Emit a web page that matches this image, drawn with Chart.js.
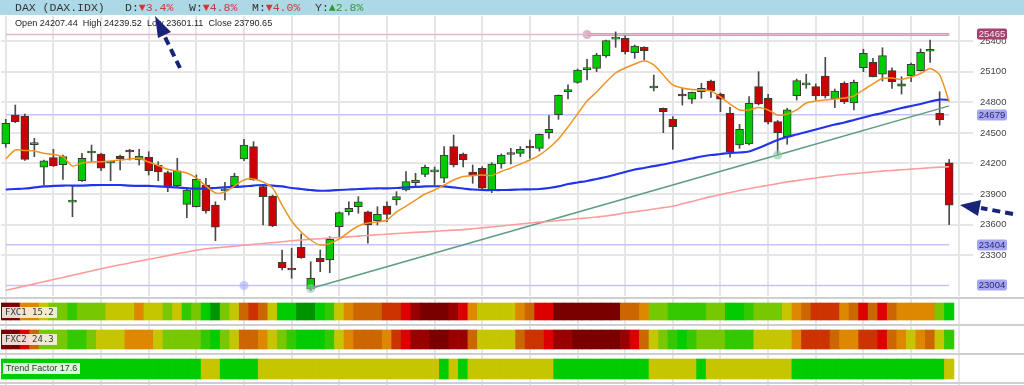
<!DOCTYPE html>
<html>
<head>
<meta charset="utf-8">
<script src="https://cdn.jsdelivr.net/npm/chart.js@4.4.1/dist/chart.umd.min.js"></script>
<style>
html, body { margin: 0; padding: 0; background: #fff; overflow: hidden; }
#wrap { position: relative; width: 1024px; height: 385px; }
canvas { position: absolute; left: 0; }
#price { top: 0; }
#strips { top: 297px; }
#head { position: absolute; left: 0; top: 0; width: 1024px; height: 15px; background: #add8e6;
  font: 11.5px "Liberation Mono", "DejaVu Sans Mono", monospace; color: #333; line-height: 15px; }
#head > span { position: absolute; top: 0; white-space: pre; }
.dn { color: #c63c3c; }
.up { color: #2f9a2f; }
#ohlc { position: absolute; left: 15px; top: 18px; font: 9.1px "Liberation Sans", Arial, sans-serif; color: #222; white-space: pre; }
.tag { position: absolute; height: 11px; line-height: 11px; padding: 0 3px; color: #333; white-space: pre; }
svg { position: absolute; left: 0; top: 0; }
</style>
</head>
<body>
<div id="wrap">
  <canvas id="price" width="1024" height="297"></canvas>
  <canvas id="strips" width="1024" height="88"></canvas>
  <div id="head">
    <span style="left:15px">DAX (DAX.IDX)</span>
    <span style="left:125px">D:<span class="dn">▼3.4%</span></span>
    <span style="left:189px">W:<span class="dn">▼4.8%</span></span>
    <span style="left:252px">M:<span class="dn">▼4.0%</span></span>
    <span style="left:315px">Y:<span class="up">▲2.8%</span></span>
  </div>
  <div id="ohlc">Open 24207.44  High 24239.52  Low 23601.11  Close 23790.65</div>
  <div class="tag" style="left:2px;top:307px;background:rgba(250,238,232,0.9);font:9px 'DejaVu Sans Mono',monospace">FXC1 15.2</div>
  <div class="tag" style="left:2px;top:334px;background:rgba(250,238,232,0.9);font:9px 'DejaVu Sans Mono',monospace">FXC2 24.3</div>
  <div class="tag" style="left:3px;top:363px;background:rgba(238,252,238,0.92);font:9px 'Liberation Sans',Arial,sans-serif">Trend Factor 17.6</div>
  <svg width="1024" height="385">
    <g stroke="#17247a" stroke-width="4" stroke-dasharray="8 5" fill="none">
      <line x1="180" y1="68" x2="164" y2="35"/>
      <line x1="1013" y1="214" x2="981" y2="208"/>
    </g>
    <g fill="#17247a">
      <polygon points="155,16 171,32 158,38"/>
      <polygon points="960,205 981,200 978,216"/>
    </g>
  </svg>
</div>
<script>
// 100 trading days, no dates shown on the chart
const days = Array.from({ length: 100 }, (_, i) => 'D' + (i + 1));

const open = [24391,24675,24666,24385,24163,24257,24188,23822,24031,24303,
  24293,24205,24273,24332,24234,24261,24182,24110,23983,23800,
  23776,23989,23793,23930,23983,24244,24365,23973,23881,23231,
  23173,23378,22970,23271,23254,23580,23727,23776,23727,23639,
  23783,23842,23940,24012,24094,24118,24055,24365,24293,24117,
  24153,23933,24195,24288,24300,24369,24349,24502,24678,24905,
  24996,25120,25133,25254,25420,25427,25286,25339,24940,24741,
  24633,24878,24830,24904,25009,24881,24692,24381,24391,24953,
  24839,24610,24463,24865,24970,24953,25058,24833,24986,24794,
  25139,25192,25075,25110,24957,25058,25110,25300,24692,24207.44];
const high = [24633,24773,24685,24447,24234,24339,24283,23982,24300,24381,
  24300,24218,24283,24339,24339,24316,24218,24126,24251,23950,
  24087,24055,23825,24016,24104,24437,24414,23980,23890,23352,
  23369,23509,23237,23352,23482,23725,23825,23875,23734,23776,
  23825,23924,24120,24104,24185,24166,24365,24479,24303,24185,
  24169,24208,24293,24349,24365,24430,24489,24669,24872,24970,
  25126,25222,25280,25411,25490,25450,25362,25345,25067,24745,
  24659,24937,24901,24986,25019,24891,24751,24584,24855,25100,
  24878,24622,24741,25028,25075,24980,25241,24930,25002,25019,
  25320,25231,25335,25139,25051,25185,25323,25411,24904,24239.52];
const low = [24359,24600,24230,24267,23989,24170,24045,23678,24025,24216,
  24129,24031,24136,24234,24185,24087,24031,23924,23967,23669,
  23773,23712,23443,23842,23980,24227,24035,23597,23580,23156,
  23075,23270,22955,23139,23129,23482,23695,23712,23418,23597,
  23629,23793,23930,23973,24071,23989,24012,24166,24166,24006,
  23950,23914,24153,24195,24267,24251,24322,24447,24633,24833,
  24986,25019,25100,25241,25339,25274,25231,25215,24911,24502,
  24339,24773,24790,24839,24849,24708,24261,24349,24381,24775,
  24587,24283,24388,24822,24937,24822,24842,24747,24787,24725,
  25100,25048,25009,24937,24881,25002,25107,25192,24577,23601.11];
const close = [24594,24610,24241,24392,24227,24178,24267,23828,24251,24316,
  24153,24212,24244,24313,24273,24129,24117,23973,24127,23940,
  24044,23734,23575,23950,24077,24381,24038,23875,23587,23178,
  23156,23276,23075,23237,23457,23718,23761,23825,23597,23702,
  23702,23875,24022,24038,24163,24124,24283,24185,24234,24084,
  23957,24195,24283,24294,24339,24352,24486,24535,24869,24912,
  25117,25128,25264,25404,25426,25296,25352,25306,24950,24708,
  24561,24862,24898,24937,24911,24830,24310,24535,24790,24783,
  24604,24502,24725,25012,24980,24862,24862,24911,24806,24996,
  25280,25051,25257,25002,24982,25172,25290,25310,24629,23790.65];

// moving averages
const maFast = [24244,24332,24328,24323,24300,24288,24264,24175,24205,24215,
  24218,24225,24234,24244,24249,24215,24180,24143,24126,24107,
  24058,23980,23911,23921,23980,24038,24048,24019,23960,23793,
  23636,23528,23450,23401,23416,23460,23528,23587,23617,23626,
  23646,23725,23783,23842,23901,23940,23989,24038,24073,24082,
  24087,24082,24122,24156,24195,24234,24283,24352,24440,24558,
  24685,24813,24901,24999,25087,25136,25175,25205,25166,25068,
  24970,24940,24925,24921,24911,24852,24783,24725,24725,24749,
  24725,24675,24685,24725,24793,24813,24823,24832,24842,24862,
  24921,24980,25033,25038,25024,25048,25082,25131,25068,24803];
const maMid = [23945,23950,23955,23965,23975,23980,23984,23984,23984,23987,
  23989,23989,23989,23984,23981,23980,23975,23970,23965,23958,
  23953,23955,23960,23965,23970,23975,23984,23989,23984,23975,
  23960,23950,23940,23933,23935,23940,23945,23950,23953,23957,
  23957,23960,23965,23970,23975,23977,23975,23965,23955,23945,
  23940,23940,23940,23942,23945,23947,23950,23960,23975,23999,
  24014,24028,24048,24068,24092,24117,24141,24156,24175,24190,
  24210,24229,24249,24269,24283,24293,24303,24308,24318,24352,
  24391,24430,24460,24484,24509,24533,24558,24582,24602,24627,
  24651,24675,24695,24720,24744,24764,24783,24808,24827,24823];
const maSlow = [22957,22977,22999,23020,23041,23062,23083,23104,23125,23146,
  23168,23188,23207,23224,23243,23261,23278,23297,23316,23333,
  23351,23364,23373,23381,23390,23398,23407,23416,23424,23433,
  23442,23450,23457,23463,23469,23475,23481,23488,23494,23501,
  23507,23513,23519,23525,23530,23535,23541,23547,23552,23560,
  23569,23578,23587,23597,23607,23616,23625,23632,23641,23649,
  23658,23666,23675,23685,23699,23715,23727,23739,23754,23767,
  23781,23805,23828,23852,23875,23895,23916,23936,23953,23970,
  23986,24003,24020,24032,24045,24058,24071,24083,24092,24101,
  24109,24117,24125,24132,24138,24145,24151,24158,24164,24168];

// trend line through two lows, out to the last day
const trendIdx = [32, 81, 99];
const trendVal = [22975, 24283, 24765];

// horizontal levels and the day each one is anchored on
const levels = [25465, 24679, 23404, 23004];
const levelAnchor = [61, null, null, 25];

const yTicks = [23300, 23600, 23900, 24200, 24500, 24800, 25100, 25400];

// indicator strips, -5 (deep red) .. 5 (deep green)
const fxc1 = [-5,-5,0,0,1,2,2,3,2,2, 2,1,1,1,0,1,1,2,1,3,
  2,4,5,2,1,-1,-2,-1,1,4, 4,5,5,4,3,1,0,-1,-1,-1,
  -2,-2,-3,-4,-5,-5,-5,-4,-3,0, 1,1,1,1,0,-1,-3,-3,-5,-5,
  -5,-5,-5,-5,-5,-1,-1,0,2,2, 3,3,3,3,2,2,4,4,3,2,
  2,2,1,0,-1,-2,-2,-2,0,-1, -3,-1,-3,-1,0,0,0,0,2,4];
const fxc2 = [-5,-5,-3,-1,2,2,2,3,3,2, 1,1,1,0,0,0,1,2,2,2,
  2,3,4,2,1,-1,-1,0,1,2, 3,4,4,4,3,1,0,-1,-1,-1,
  0,-2,-3,-4,-4,-5,-5,-4,-4,-1, 1,1,1,1,-1,-2,-2,-3,-4,-4,
  -5,-5,-5,-5,-5,-4,-3,-1,1,2, 3,4,3,2,2,2,3,3,3,1,
  1,1,1,0,-2,-2,-2,-1,0,0, -2,-2,-3,-1,0,1,0,-1,1,3];
const trendFactor = [4,4,4,4,4,4,4,4,4,4, 4,4,4,4,4,4,4,4,4,4,
  4,1,1,4,4,4,4,1,1,1, 1,1,1,1,1,1,1,1,1,1,
  1,1,1,1,1,1,4,1,4,1, 1,1,1,1,1,1,1,1,4,4,
  4,4,4,4,4,4,4,4,1,1, 1,1,1,4,1,1,1,1,1,1,
  1,1,1,4,4,4,4,4,4,4, 4,4,4,4,4,4,4,4,4,1];

const heat = {
  '-5': '#7a0000', '-4': '#9a0000', '-3': '#dd0000', '-2': '#cc3300', '-1': '#cc6600',
  '0': '#dd8800', '1': '#c6c600', '2': '#77c800', '3': '#33c800', '4': '#00cc00', '5': '#009400'
};

const labels = days.concat(['', '']);
const last = days.length - 1;
const pick = (idxs, vals) => days.map((_, i) => {
  const k = idxs.indexOf(i);
  return k < 0 ? null : (Array.isArray(vals) ? vals[k] : vals);
});

const weekGrid = {
  offset: false,
  drawTicks: false,
  lineWidth: 2,
  color: c => (c.index % 5 === 0 ? '#e6e6e6' : 'rgba(0,0,0,0)')
};

const flatX = {
  offset: true,
  grid: weekGrid,
  border: { display: false },
  ticks: { display: false, autoSkip: false },
  afterFit: s => { s.height = 0; s.paddingLeft = 0; s.paddingRight = 0; }
};

const levelDatasets = levels.map((lv, k) => {
  const idx = levelAnchor[k] != null && k !== 0 ? [0, levelAnchor[k], last] : [0, last];
  return {
    type: 'line',
    data: pick(idx, lv),
    spanGaps: true,
    borderColor: k === 0 ? '#e3b6cb' : '#c4c4fb',
    borderWidth: 1.5,
    pointRadius: c => (k !== 0 && c.dataIndex === levelAnchor[k] ? 4.5 : 0),
    pointBackgroundColor: 'rgba(170,170,250,0.6)',
    pointBorderWidth: 0,
    order: 12
  };
});
levelDatasets.push({
  type: 'line',
  data: pick([levelAnchor[0], last], levels[0]),
  spanGaps: true,
  borderColor: '#993a66',
  borderWidth: 2,
  pointRadius: c => (c.dataIndex === levelAnchor[0] ? 4.5 : 0),
  pointBackgroundColor: 'rgba(210,150,180,0.7)',
  pointBorderWidth: 0,
  order: 12
});

const levelBoxes = {
  id: 'levelBoxes',
  afterDraw(chart) {
    const { ctx, scales: { y } } = chart;
    ctx.save();
    ctx.font = '9.5px "Liberation Sans", Arial, sans-serif';
    ctx.textAlign = 'center';
    ctx.textBaseline = 'middle';
    levels.forEach((lv, k) => {
      const py = Math.round(y.getPixelForValue(lv));
      const x0 = 977, w = 30, h = 11, r = 2, y0 = py - 5.5;
      ctx.fillStyle = k === 0 ? '#a3416f' : '#a6a6f4';
      ctx.beginPath();
      ctx.moveTo(x0 + r, y0);
      ctx.arcTo(x0 + w, y0, x0 + w, y0 + h, r);
      ctx.arcTo(x0 + w, y0 + h, x0, y0 + h, r);
      ctx.arcTo(x0, y0 + h, x0, y0, r);
      ctx.arcTo(x0, y0, x0 + w, y0, r);
      ctx.fill();
      ctx.fillStyle = k === 0 ? '#f6e8ef' : '#2b2b6a';
      ctx.fillText(String(lv), x0 + w / 2, py + 0.5);
    });
    ctx.restore();
  }
};

new Chart(document.getElementById('price'), {
  type: 'bar',
  data: {
    labels: labels,
    datasets: [
      {
        type: 'line', data: maFast, borderColor: '#ee9422', borderWidth: 1.5,
        pointRadius: 0, tension: 0.25, order: 0
      },
      {
        type: 'line', data: maMid, borderColor: '#2233ee', borderWidth: 2.2,
        pointRadius: 0, tension: 0.3, order: 1
      },
      {
        type: 'line', data: maSlow, borderColor: '#ff9c9c', borderWidth: 1.6,
        pointRadius: 0, tension: 0.3, order: 2
      },
      {
        type: 'line', data: pick(trendIdx, trendVal), spanGaps: true,
        borderColor: '#5f9d82', borderWidth: 1.5,
        pointRadius: c => (c.dataIndex === trendIdx[0] || c.dataIndex === trendIdx[1] ? 4.5 : 0),
        pointBackgroundColor: 'rgba(140,200,165,0.6)', pointBorderWidth: 0, order: 3
      },
      {
        data: days.map((_, i) => [open[i], close[i]]),
        backgroundColor: days.map((_, i) => (close[i] >= open[i] ? '#00cc00' : '#cc0000')),
        borderColor: '#3a3a3a', borderWidth: 1, borderSkipped: false,
        barThickness: 8, minBarLength: 2, grouped: false, order: 9
      },
      {
        data: days.map((_, i) => [low[i], high[i]]),
        backgroundColor: '#4a4a4a', barThickness: 1, grouped: false, order: 10
      },
      ...levelDatasets
    ]
  },
  options: {
    responsive: false,
    animation: false,
    devicePixelRatio: 1,
    layout: { padding: { left: 1, right: 0, top: 16, bottom: 1 } },
    plugins: { legend: { display: false }, tooltip: { enabled: false } },
    scales: {
      x: flatX,
      y: {
        position: 'right',
        min: 22901,
        max: 25646,
        afterFit: s => { s.width = 51; s.paddingTop = 0; s.paddingBottom = 0; },
        afterBuildTicks: s => { s.ticks = yTicks.map(v => ({ value: v })); },
        grid: { color: '#e6e6e6', lineWidth: 2, drawTicks: false },
        border: { display: false },
        ticks: {
          padding: 7,
          color: '#444',
          font: { family: '"Liberation Sans", Arial, sans-serif', size: 9.5 },
          callback: v => String(v)
        }
      }
    }
  },
  plugins: [levelBoxes]
});

// strip bands (top, bottom) in the strip canvas, and separator rows
const bands = [[6, 23], [33, 52], [62, 82]];
const separators = [1, 28, 57, 86];

const stripLines = {
  id: 'stripLines',
  beforeDatasetsDraw(chart) {
    const { ctx, width } = chart;
    ctx.save();
    ctx.strokeStyle = '#cfcfcf';
    ctx.lineWidth = 2;
    separators.forEach(py => {
      ctx.beginPath();
      ctx.moveTo(0, py);
      ctx.lineTo(width, py);
      ctx.stroke();
    });
    ctx.restore();
  }
};

new Chart(document.getElementById('strips'), {
  type: 'bar',
  data: {
    labels: labels,
    datasets: [fxc1, fxc2, trendFactor].map((s, k) => ({
      data: s.map(() => bands[k]),
      backgroundColor: s.map(v => heat[v]),
      borderWidth: 0,
      barPercentage: 1,
      categoryPercentage: 1,
      grouped: false
    }))
  },
  options: {
    responsive: false,
    animation: false,
    devicePixelRatio: 1,
    layout: { padding: { left: 1, right: 51, top: 0, bottom: 0 } },
    plugins: { legend: { display: false }, tooltip: { enabled: false } },
    scales: {
      x: flatX,
      y: { display: false, min: 0, max: 88, reverse: true }
    }
  },
  plugins: [stripLines]
});
</script>
</body>
</html>
